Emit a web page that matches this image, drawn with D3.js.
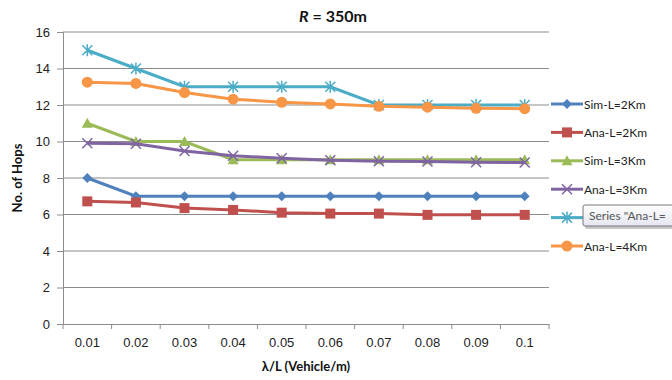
<!DOCTYPE html>
<html>
<head>
<meta charset="utf-8">
<script src="https://cdn.jsdelivr.net/npm/d3@7"></script>
<style>
  body { margin: 0; background: #fff; }
  svg { font-family: Lato, "Liberation Sans", sans-serif; }
</style>
</head>
<body>
<div id="chart"></div>
<script>
// data
const CATEGORIES = ["0.01", "0.02", "0.03", "0.04", "0.05", "0.06", "0.07", "0.08", "0.09", "0.1"];
const Y_TICKS = [0, 2, 4, 6, 8, 10, 12, 14, 16];

const SIM_L2 = [8, 7, 7, 7, 7, 7, 7, 7, 7, 7];
const ANA_L2 = [6.72, 6.66, 6.35, 6.25, 6.1, 6.05, 6.05, 5.98, 5.98, 5.98];
const SIM_L3 = [11, 10, 10, 9, 9, 9, 9, 9, 9, 9];
const ANA_L3 = [9.9, 9.88, 9.48, 9.22, 9.08, 8.97, 8.92, 8.9, 8.86, 8.85];
const SIM_L4 = [15, 14, 13, 13, 13, 13, 12, 12, 12, 12];
const ANA_L4 = [13.25, 13.18, 12.68, 12.32, 12.15, 12.06, 11.93, 11.88, 11.82, 11.8];

// the 5th legend label is hidden under a tooltip in the picture
const SERIES_NAMES = ["Sim-L=2Km", "Ana-L=2Km", "Sim-L=3Km", "Ana-L=3Km", "", "Ana-L=4Km"];
const TOOLTIP_TEXT = "Series \"Ana-L=";

const FRAME_WIDTH = 672;
const FRAME_HEIGHT = 380;
const MARGINS = {left: 63, right: 123, top: 32, bottom: 56};
const VIS_WIDTH = FRAME_WIDTH - MARGINS.left - MARGINS.right;
const VIS_HEIGHT = FRAME_HEIGHT - MARGINS.top - MARGINS.bottom;

const series = [
  {name: SERIES_NAMES[0], values: SIM_L2, color: "#4f81bd", marker: "diamond"},
  {name: SERIES_NAMES[1], values: ANA_L2, color: "#c0504d", marker: "square"},
  {name: SERIES_NAMES[2], values: SIM_L3, color: "#9bbb59", marker: "triangle"},
  {name: SERIES_NAMES[3], values: ANA_L3, color: "#8064a2", marker: "x"},
  {name: SERIES_NAMES[4], values: SIM_L4, color: "#4bacc6", marker: "star"},
  {name: SERIES_NAMES[5], values: ANA_L4, color: "#f79646", marker: "circle"}
];

const svg = d3.select("#chart")
  .append("svg")
    .attr("width", FRAME_WIDTH)
    .attr("height", FRAME_HEIGHT);

const X_SCALE = d3.scaleBand()
  .domain(CATEGORIES)
  .range([0, VIS_WIDTH]);

const Y_SCALE = d3.scaleLinear()
  .domain([0, 16])
  .range([VIS_HEIGHT, 0]);

const plot = svg.append("g")
  .attr("transform", "translate(" + MARGINS.left + "," + MARGINS.top + ")");

// gridlines
plot.selectAll(".grid")
  .data(Y_TICKS.slice(1))
  .enter()
  .append("line")
    .attr("x1", 0)
    .attr("x2", VIS_WIDTH)
    .attr("y1", (d) => Y_SCALE(d))
    .attr("y2", (d) => Y_SCALE(d))
    .attr("stroke", "#8c8c8c")
    .attr("stroke-width", 1);

// y axis
const yAxis = plot.append("g")
  .call(d3.axisLeft(Y_SCALE).tickValues(Y_TICKS).tickSize(6).tickPadding(7));
yAxis.select(".domain").attr("stroke", "#8c8c8c");
yAxis.selectAll(".tick line").attr("stroke", "#8c8c8c");
yAxis.selectAll("text").attr("font-size", "13px").attr("fill", "#222");

// x axis
const xAxis = plot.append("g")
  .attr("transform", "translate(0," + VIS_HEIGHT + ")")
  .call(d3.axisBottom(X_SCALE).tickSize(0).tickPadding(14));
xAxis.select(".domain").attr("stroke", "#8c8c8c");
xAxis.selectAll("text").attr("font-size", "13px").attr("fill", "#222");

// x tick marks at category edges
plot.selectAll(".xtick")
  .data(CATEGORIES.concat(["end"]))
  .enter()
  .append("line")
    .attr("x1", (d, i) => i * X_SCALE.step())
    .attr("x2", (d, i) => i * X_SCALE.step())
    .attr("y1", VIS_HEIGHT)
    .attr("y2", VIS_HEIGHT + 5)
    .attr("stroke", "#8c8c8c");

function markerPath(type) {
  if (type === "diamond") return "M0,-5L5,0L0,5L-5,0Z";
  if (type === "square") return "M-5,-5H5V5H-5Z";
  if (type === "triangle") return "M0,-5.5L5.5,4.5H-5.5Z";
  if (type === "x") return "M-5,-5L5,5M-5,5L5,-5";
  if (type === "star") return "M-5,-5L5,5M-5,5L5,-5M0,-6V6";
  return null;
}

function drawMarker(g, type, color) {
  if (type === "circle") {
    g.append("circle").attr("r", 5.5).attr("fill", color);
  } else if (type === "x" || type === "star") {
    g.append("path").attr("d", markerPath(type))
      .attr("stroke", color).attr("stroke-width", 1.5).attr("fill", "none");
  } else {
    g.append("path").attr("d", markerPath(type)).attr("fill", color);
  }
}

const line = d3.line()
  .x((d, i) => X_SCALE(CATEGORIES[i]) + X_SCALE.bandwidth() / 2)
  .y((d) => Y_SCALE(d));

series.forEach((s) => {
  plot.append("path")
    .datum(s.values)
    .attr("d", line)
    .attr("fill", "none")
    .attr("stroke", s.color)
    .attr("stroke-width", 3);

  s.values.forEach((v, i) => {
    const g = plot.append("g")
      .attr("transform", "translate(" + (X_SCALE(CATEGORIES[i]) + X_SCALE.bandwidth() / 2) + "," + Y_SCALE(v) + ")");
    drawMarker(g, s.marker, s.color);
  });
});

// legend
const legend = svg.append("g")
  .attr("transform", "translate(551,104)");

series.forEach((s, i) => {
  const row = legend.append("g").attr("transform", "translate(0," + (i * 28.4) + ")");
  row.append("line")
    .attr("x1", 0).attr("x2", 32)
    .attr("stroke", s.color).attr("stroke-width", 3);
  const m = row.append("g").attr("transform", "translate(16,0)");
  drawMarker(m, s.marker, s.color);
  if (s.name) {
    row.append("text")
      .attr("x", 33)
      .attr("y", 4.5)
      .attr("font-size", "12px")
      .attr("fill", "#222")
      .text(s.name);
  }
});

// tooltip box covering one legend entry
const defs = svg.append("defs");
const grad = defs.append("linearGradient")
  .attr("id", "tipGrad").attr("x1", 0).attr("y1", 0).attr("x2", 0).attr("y2", 1);
grad.append("stop").attr("offset", "0%").attr("stop-color", "#ffffff");
grad.append("stop").attr("offset", "100%").attr("stop-color", "#e4e5f0");

svg.append("rect")
  .attr("x", 585).attr("y", 207)
  .attr("width", 100).attr("height", 22)
  .attr("rx", 2)
  .attr("fill", "#c8c8c8");
svg.append("rect")
  .attr("x", 583).attr("y", 205)
  .attr("width", 100).attr("height", 21)
  .attr("rx", 2)
  .attr("fill", "url(#tipGrad)")
  .attr("stroke", "#767676");
svg.append("text")
  .attr("x", 589)
  .attr("y", 220)
  .attr("font-size", "12px")
  .attr("fill", "#575757")
  .text(TOOLTIP_TEXT);

// title
const title = svg.append("text")
  .attr("x", 333)
  .attr("y", 22)
  .attr("text-anchor", "middle")
  .attr("font-size", "16px")
  .attr("font-weight", "bold")
  .attr("fill", "#111");
title.append("tspan").attr("font-style", "italic").text("R");
title.append("tspan").text(" = 350m");

// axis titles
svg.append("text")
  .attr("transform", "translate(22," + (MARGINS.top + VIS_HEIGHT / 2) + ") rotate(-90)")
  .attr("text-anchor", "middle")
  .attr("font-size", "13px")
  .attr("font-weight", "bold")
  .attr("fill", "#111")
  .text("No. of Hops");

svg.append("text")
  .attr("x", MARGINS.left + VIS_WIDTH / 2)
  .attr("y", 371)
  .attr("text-anchor", "middle")
  .attr("font-size", "13px")
  .attr("font-weight", "bold")
  .attr("fill", "#111")
  .text("λ/L (Vehicle/m)");
</script>
</body>
</html>
